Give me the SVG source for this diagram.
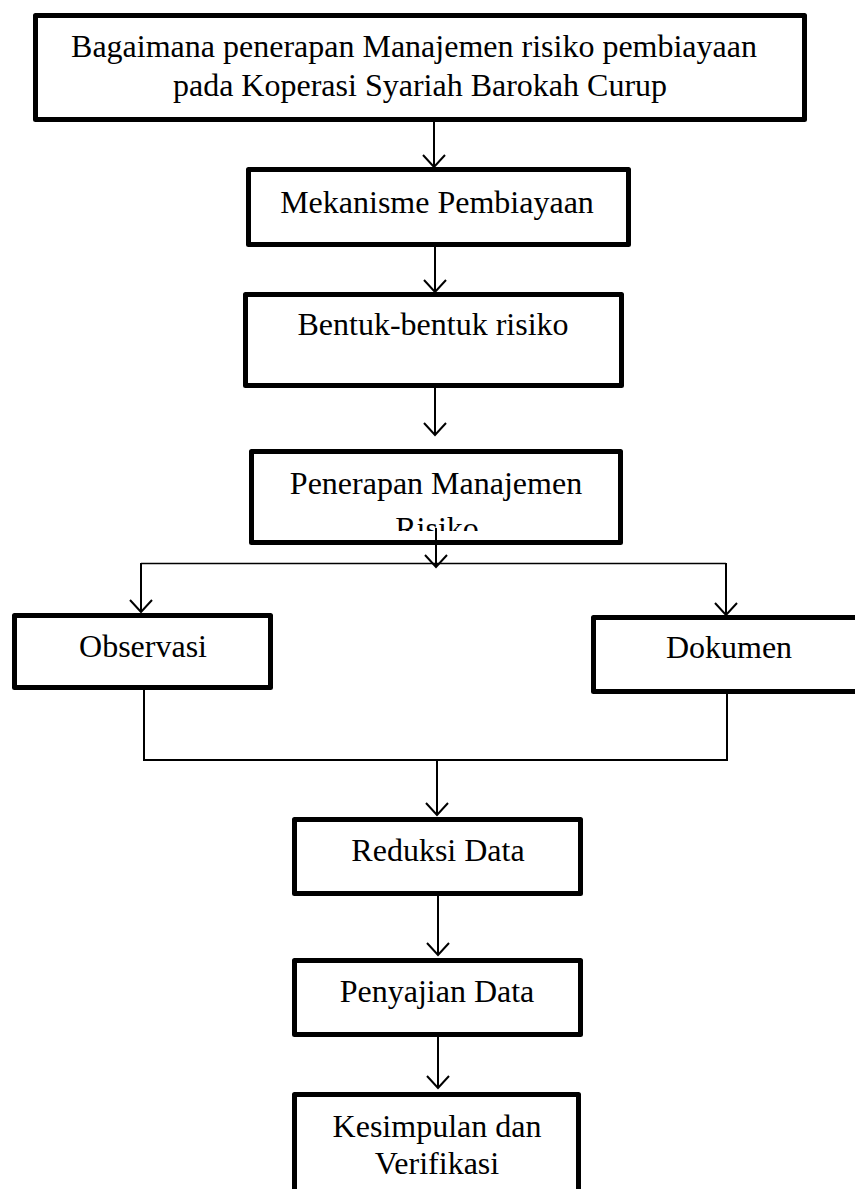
<svg xmlns="http://www.w3.org/2000/svg" width="855" height="1189" viewBox="0 0 855 1189">
<style>
.box{fill:#fff;stroke:#000;stroke-width:5;stroke-linejoin:round}
.t{font-family:"Liberation Serif","Times New Roman",serif;font-size:32px;fill:#000;text-anchor:middle}
.c{fill:none;stroke:#000;stroke-width:2}
.h{fill:none;stroke:#000;stroke-width:2;stroke-linejoin:miter}
</style>
<defs>
<clipPath id="clipRisiko"><rect x="250" y="450" width="372" height="81"/></clipPath>
</defs>
<rect width="855" height="1189" fill="#fff"/>
<g id="node-top">
<rect class="box" x="35.5" y="15.5" width="769" height="104"/>
<text class="t" x="414" y="57">Bagaimana penerapan Manajemen risiko pembiayaan</text>
<text class="t" x="420" y="96">pada Koperasi Syariah Barokah Curup</text>
</g>
<g id="node-mekanisme">
<rect class="box" x="248.5" y="169.5" width="380" height="75"/>
<text class="t" x="437" y="213">Mekanisme Pembiayaan</text>
</g>
<g id="node-bentuk">
<rect class="box" x="245.5" y="294.5" width="376" height="91"/>
<text class="t" x="433" y="335">Bentuk-bentuk risiko</text>
</g>
<g id="node-penerapan">
<rect class="box" x="251.5" y="451.5" width="369" height="91"/>
<text class="t" x="436" y="494">Penerapan Manajemen</text>
<text class="t" x="437" y="539" clip-path="url(#clipRisiko)">Risiko</text>
</g>
<g id="node-observasi">
<rect class="box" x="14.5" y="615.5" width="256" height="72"/>
<text class="t" x="143" y="657">Observasi</text>
</g>
<g id="node-dokumen">
<rect class="box" x="593.5" y="617.5" width="300" height="74"/>
<text class="t" x="729" y="658">Dokumen</text>
</g>
<g id="node-reduksi">
<rect class="box" x="294.5" y="819.5" width="286" height="74"/>
<text class="t" x="438" y="861">Reduksi Data</text>
</g>
<g id="node-penyajian">
<rect class="box" x="294.5" y="960.5" width="286" height="74"/>
<text class="t" x="437" y="1002">Penyajian Data</text>
</g>
<g id="node-kesimpulan">
<rect class="box" x="294.5" y="1094.5" width="284" height="120"/>
<text class="t" x="437" y="1137">Kesimpulan dan</text>
<text class="t" x="437" y="1174">Verifikasi</text>
</g>
<g id="connectors">
<path class="c" d="M434 122V167"/><path class="h" d="M423 155L434 167L445 155"/>
<path class="c" d="M435 247V292"/><path class="h" d="M424 280L435 292L446 280"/>
<path class="c" d="M435 386V435"/><path class="h" d="M424 423L435 435L446 423"/>
<path class="c" d="M436 528V567"/><path class="h" d="M425 555L436 567L447 555"/>
<path fill="none" stroke="#000" stroke-width="1.5" d="M141 563.5H726"/>
<path class="c" d="M141 563V612"/><path class="h" d="M130 600L141 612L152 600"/>
<path class="c" d="M726 563V615"/><path class="h" d="M715 603L726 615L737 603"/>
<path class="c" d="M144 690V760H727V694"/>
<path class="c" d="M437 760V815"/><path class="h" d="M426 803L437 815L448 803"/>
<path class="c" d="M438 896V955"/><path class="h" d="M427 943L438 955L449 943"/>
<path class="c" d="M438 1037V1088"/><path class="h" d="M427 1076L438 1088L449 1076"/>
</g>
</svg>
